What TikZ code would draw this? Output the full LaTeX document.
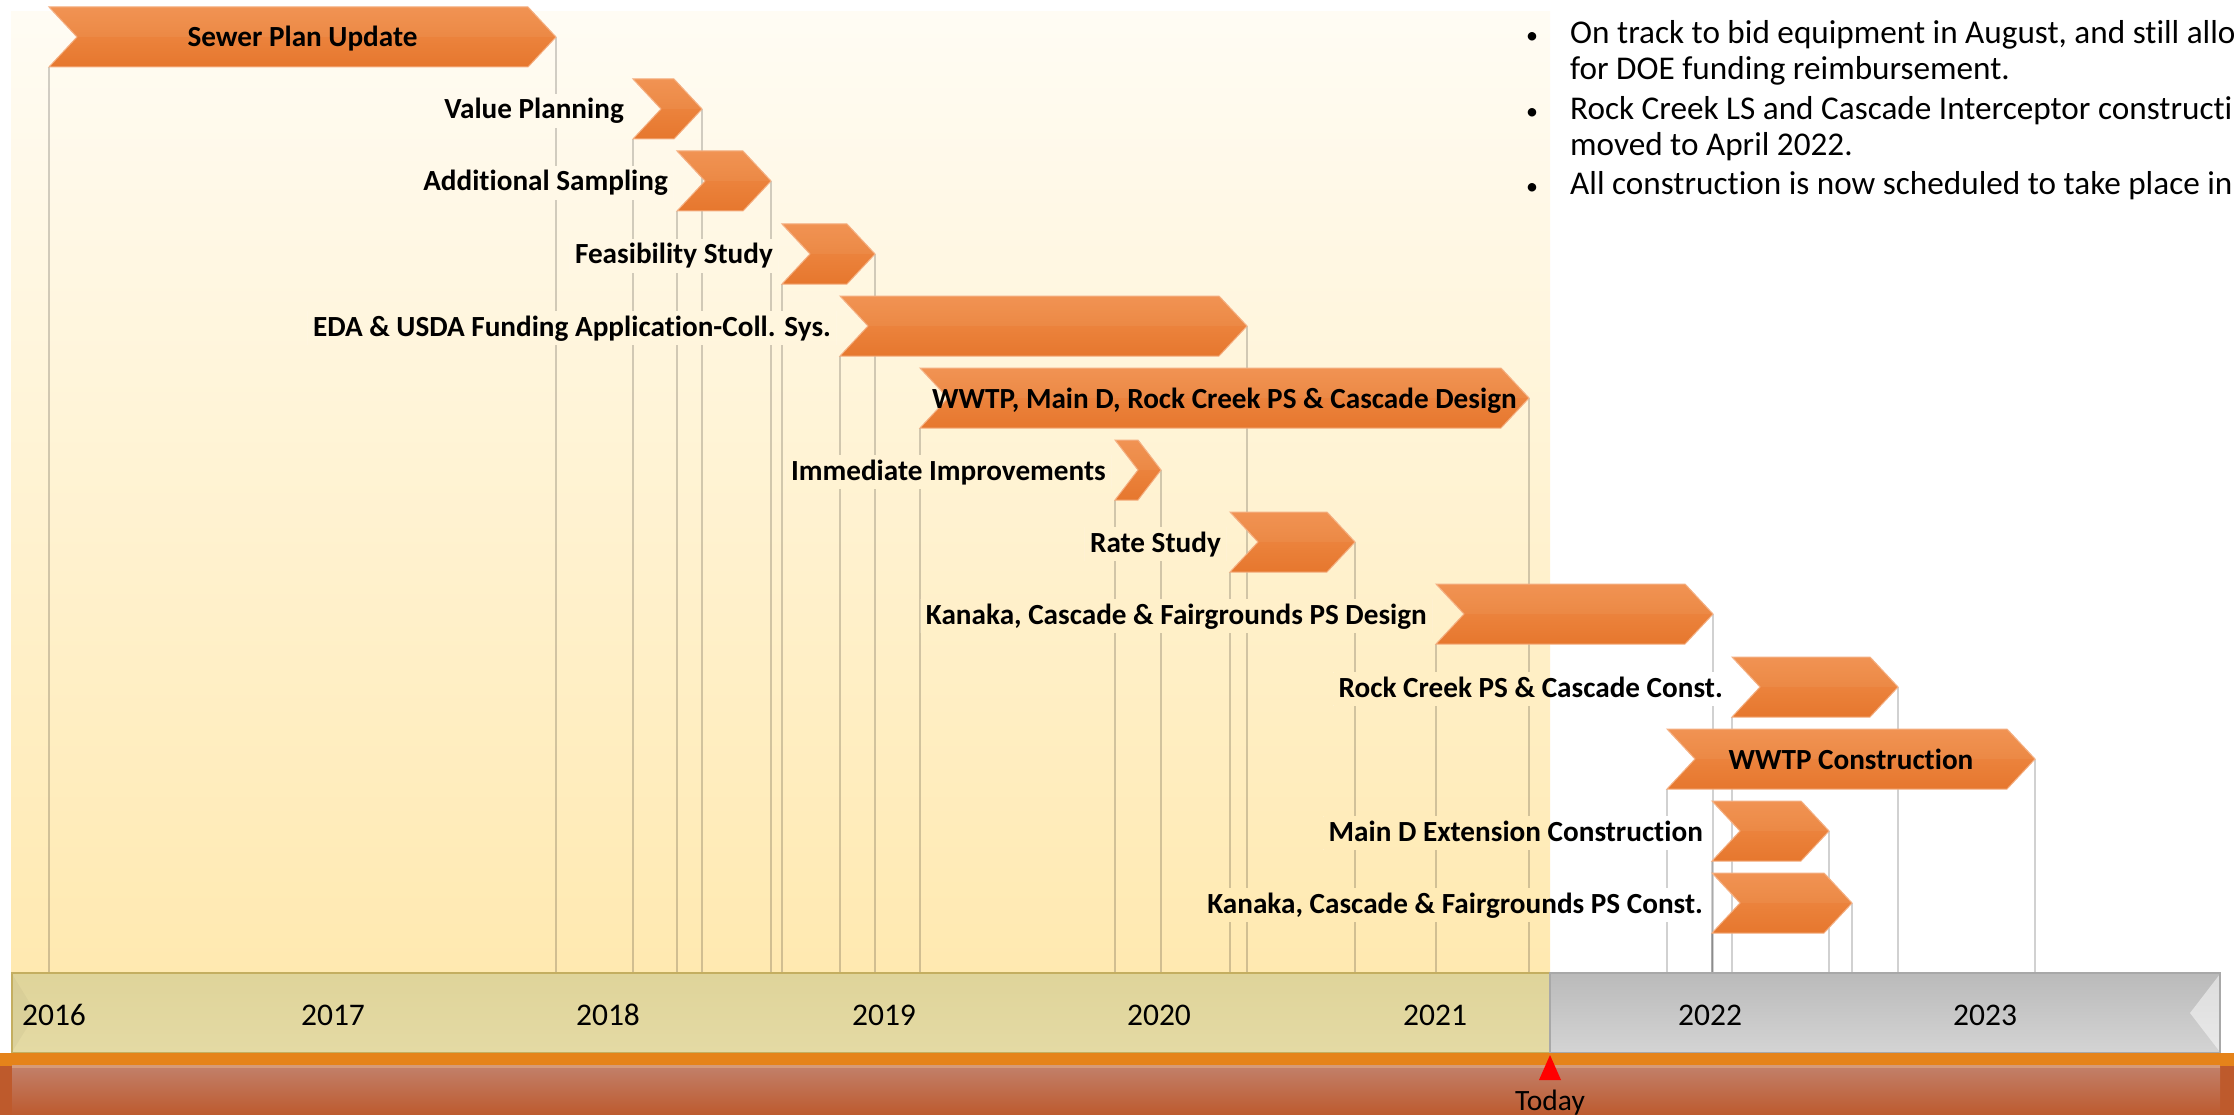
\documentclass[tikz,border=0pt]{standalone}
\usepackage{fontspec}
\setmainfont{Carlito}[Ligatures=NoCommon]
\usetikzlibrary{calc}
\definecolor{creamT}{HTML}{FFFCF4}
\definecolor{creamB}{HTML}{FFE9B0}
\definecolor{chevT}{HTML}{F18E4A}
\definecolor{chevB}{HTML}{E6772E}
\definecolor{chevE}{HTML}{F4AE80}
\definecolor{barY1}{HTML}{DFD49A}
\definecolor{barY2}{HTML}{FFF6C4}
\definecolor{barY3}{HTML}{E4DAA4}
\definecolor{barYE}{HTML}{C4AE60}
\definecolor{barG1}{HTML}{BABABA}
\definecolor{barG3}{HTML}{D4D4D4}
\definecolor{barGE}{HTML}{A8A8A8}
\definecolor{stripO}{HTML}{E5831A}
\definecolor{bandA}{HTML}{C2806A}
\definecolor{bandB}{HTML}{BD5A2E}
\definecolor{bandBase}{HTML}{BE5A2C}
\definecolor{bandLine}{HTML}{D69A78}
\definecolor{todayRed}{HTML}{FF0000}

\tikzset{
  lbltxt/.style={font=\fontsize{29.2}{35}\selectfont\bfseries, inner xsep=5pt, inner ysep=0pt, text height=24pt, text depth=8pt},
  intxt/.style={font=\fontsize{29.2}{35}\selectfont\bfseries, inner sep=0pt},
  chevfill/.style={top color=chevT, bottom color=chevB, draw=chevE, line width=1pt},
  gridln/.style={draw=black, draw opacity=0.18, line width=1.5pt},
  yeartxt/.style={font=\fontsize{31.5}{36}\selectfont, inner sep=0pt},
  bultxt/.style={font=\fontsize{33.2}{38}\selectfont, inner sep=0pt},
  dottxt/.style={font=\fontsize{24}{30}\selectfont, inner sep=0pt},
}

\newcommand\bgpaint{%
  \fill[white] (0,0) rectangle (2234,973);
  \shade[top color=creamT, bottom color=creamB] (11,12) rectangle (1550,973);
}

\newcommand\tlbl[4]{%
  \node[lbltxt, anchor=base east, opacity=0] (#1-m) at ({#2-4},{#3+10}) {#4};
  \begin{scope}
    \clip (#1-m.south west) rectangle (#1-m.north east);
    \bgpaint
  \end{scope}
  \node[lbltxt, anchor=base east] (#1-lbl) at ({#2-4},{#3+10}) {#4};
}

\def\chevlist{sew/49/556/7, val/633/702/79, add/677/771/151, fea/782/875/224, eda/840/1247/296, wwd/920/1529/368, imm/1115/1161/440, rat/1230/1355/512, kad/1436/1713/584, rcc/1732/1898/657, wwc/1667/2035/729, mde/1712/1829/801, kac/1712/1852/873}

\begin{document}
\begin{tikzpicture}[x=1pt,y=-1pt]
\useasboundingbox (0,0) rectangle (2234,1115);
\clip (0,0) rectangle (2234,1115);

% background
\bgpaint
\coordinate (axtop) at (0,973);

% chevron reference points
\foreach \cn/\ca/\cb/\ct in \chevlist {
  \coordinate (\cn-bl) at (\ca,\ct+60);
  \coordinate (\cn-tip) at (\cb,\ct+30);
  \coordinate (\cn-c) at ({(\ca+\cb)/2},\ct+30);
}

% grid lines
\foreach \cn/\ca/\cb/\ct in \chevlist {
  \draw[gridln] (\cn-bl) -- (\cn-bl |- axtop);
  \draw[gridln] (\cn-tip) -- (\cn-tip |- axtop);
}

% outside labels
\tlbl{val}{633}{109}{Value Planning}
\tlbl{add}{677}{181}{Additional Sampling}
\tlbl{fea}{782}{254}{Feasibility Study}
\tlbl{eda}{840}{326}{EDA \& USDA Funding Application-Coll. Sys.}
\tlbl{imm}{1115}{470}{Immediate Improvements}
\tlbl{rat}{1230}{542}{Rate Study}
\tlbl{kad}{1436}{614}{Kanaka, Cascade \& Fairgrounds PS Design}
\tlbl{rcc}{1732}{687}{Rock Creek PS \& Cascade Const.}
\tlbl{mde}{1712}{831}{Main D Extension Construction}
\tlbl{kac}{1712}{903}{Kanaka, Cascade \& Fairgrounds PS Const.}

% chevrons
\foreach \cn/\ca/\cb/\ct in \chevlist {
  \pgfmathsetmacro\cd{min(28,(\cb-\ca)/2)}
  \shadedraw[chevfill] (\ca,\ct) -- ({\cb-\cd},\ct) -- (\cb,\ct+30) -- ({\cb-\cd},\ct+60) -- (\ca,\ct+60) -- ({\ca+\cd},\ct+30) -- cycle;
  \fill[white, opacity=0.05] (\ca,\ct) -- ({\cb-\cd},\ct) -- (\cb,\ct+30) -- ({\ca+\cd},\ct+30) -- cycle;
}

% inside labels
\node[intxt, anchor=base] (sew-lbl) at ($(sew-c)+(0,10)$) {Sewer Plan Update};
\node[intxt, anchor=base] (wwd-lbl) at ($(wwd-c)+(0,10)$) {WWTP, Main D, Rock Creek PS \& Cascade Design};
\node[intxt, anchor=base] (wwc-lbl) at ($(wwc-c)+(0,10)$) {WWTP Construction};

% timeline bar
\shade[top color=barY1, middle color=barY2, bottom color=barY3] (12,973) rectangle (1550,1053);
\fill[barY1!70!black, opacity=0.10] (12,974) -- (36,1013) -- (12,1052) -- cycle;
\draw[barYE, line width=1.2pt] (12,973) rectangle (1550,1053);
\draw[barYE, line width=2.5pt] (12,973) -- (1550,973);
\shade[top color=barG1, middle color=white, bottom color=barG3] (1550,973) rectangle (2220,1053);
\fill[white, opacity=0.5] (2220,974) -- (2190,1013) -- (2220,1052) -- cycle;
\draw[barGE, line width=1.2pt] (1550,973) rectangle (2220,1053);

% years
\node[yeartxt, anchor=base] (y2016) at (54,1025) {2016};
\node[yeartxt, anchor=base] (y2017) at (333,1025) {2017};
\node[yeartxt, anchor=base] (y2018) at (608,1025) {2018};
\node[yeartxt, anchor=base] (y2019) at (884,1025) {2019};
\node[yeartxt, anchor=base] (y2020) at (1159,1025) {2020};
\node[yeartxt, anchor=base] (y2021) at (1435,1025) {2021};
\node[yeartxt, anchor=base] (y2022) at (1710,1025) {2022};
\node[yeartxt, anchor=base] (y2023) at (1985,1025) {2023};

% bottom strips
\fill[stripO] (0,1053) rectangle (2234,1066);
\fill[bandBase] (0,1066) rectangle (2234,1115);
\shade[top color=bandA, bottom color=bandB] (12,1066) rectangle (2220,1115);
\fill[bandLine] (12,1065) rectangle (2220,1068);

% today marker
\coordinate (today) at (1550,1055);
\fill[todayRed] (today) -- ++(11,25) -- ++(-22,0) -- cycle;
\node[yeartxt, font=\fontsize{29.5}{34}\selectfont, anchor=base] (todaytxt) at (1550,1110) {Today};

% bullet text
\foreach \by/\bn/\bt/\bb in {44/b1/{On track to bid equipment in August, and still allo}/1, 80/b1b/{for DOE funding reimbursement.}/0, 120/b2/{Rock Creek LS and Cascade Interceptor constructi}/1, 156/b2b/{moved to April 2022.}/0, 195/b3/{All construction is now scheduled to take place in}/1} {
  \node[bultxt, anchor=base west] (\bn) at (1570,\by) {\bt};
  \ifnum\bb=1 \node[dottxt, anchor=base] (\bn-dot) at (1532,\by) {•};\fi
}
\end{tikzpicture}
\end{document}
